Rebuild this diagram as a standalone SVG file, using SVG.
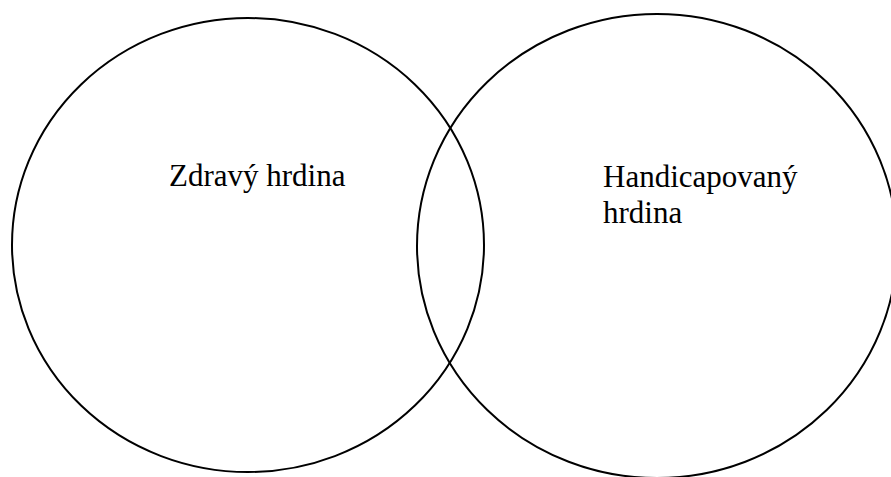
<svg xmlns="http://www.w3.org/2000/svg" width="891" height="477" viewBox="0 0 891 477">
<style>
.c{fill:none;stroke:#000;stroke-width:2}
.t{font-family:"Liberation Serif","Times New Roman",serif;font-size:31px;fill:#000}
</style>
<rect width="891" height="477" fill="#fff"/>
<g id="zdravy">
<ellipse class="c" cx="248" cy="245" rx="236" ry="227"/>
<text class="t" x="169" y="186">Zdravý hrdina</text>
</g>
<g id="handicapovany">
<ellipse class="c" cx="657" cy="246" rx="240" ry="232"/>
<text class="t" x="603" y="187">Handicapovaný</text>
<text class="t" x="603" y="223">hrdina</text>
</g>
<g id="connectors"></g>
</svg>
